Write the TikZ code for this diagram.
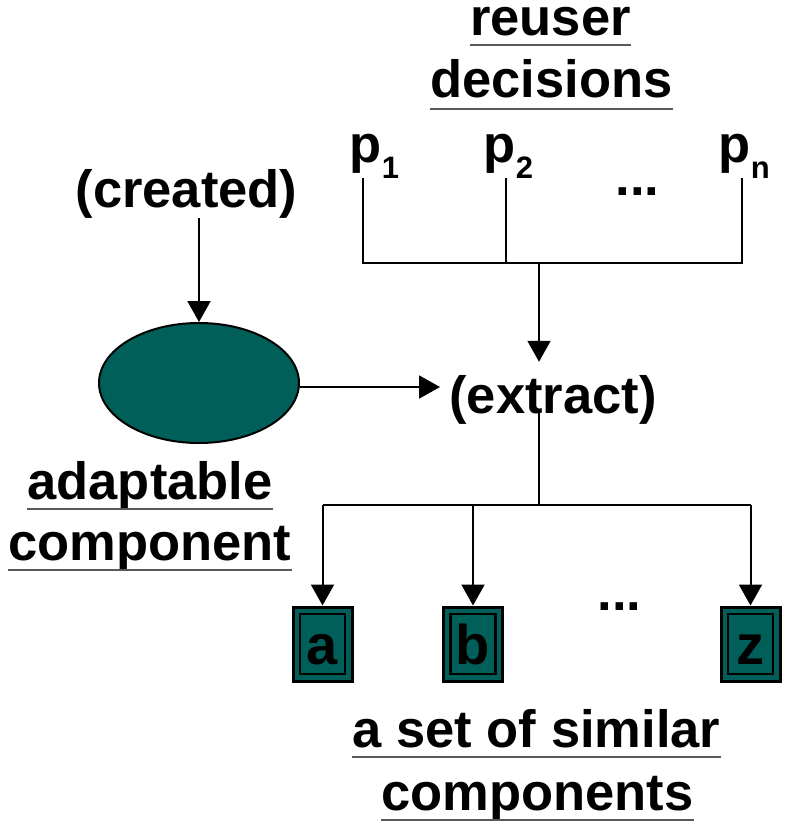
\documentclass[tikz,border=0pt]{standalone}
\usepackage{fontspec}
\setmainfont{Liberation Sans}
\usetikzlibrary{arrows.meta,shapes.geometric}
\definecolor{teal}{HTML}{005F58}
\definecolor{ulgray}{gray}{0.35}
\newcommand{\psub}[1]{p\hspace{0.5pt}\raisebox{-16pt}{\fontsize{31}{31}\selectfont #1}}
\tikzset{
  lbl/.style={font=\fontsize{52.5}{60}\selectfont\bfseries, inner sep=0pt, anchor=base},
  ulined/.style={draw=ulgray, line width=2pt},
  wire/.style={line width=2pt, draw=black},
  arr/.style={wire, -{Triangle[length=21pt,width=23pt]}},
  blob/.style={ellipse, draw=black, line width=2pt, fill=teal,
    minimum width=200pt, minimum height=120pt, inner sep=0pt},
  comp/.style={rectangle, draw=black, line width=3pt, fill=teal,
    minimum width=59pt, minimum height=74pt, inner sep=0pt,
    text height=40pt, text depth=0pt,
    font=\fontsize{56}{60}\selectfont\bfseries,
    path picture={\draw[black, line width=2.5pt]
      ([shift={(7pt,-7pt)}]path picture bounding box.north west) rectangle
      ([shift={(-7pt,7pt)}]path picture bounding box.south east);}},
}
\begin{document}
\begin{tikzpicture}[x=1pt, y=-1pt]
  \useasboundingbox (0,0) rectangle (788,828);

  % title above the parameter bus
  \node[lbl, text height=29pt] (reuser) at (550.5,35.5) {reuser};
  \node[lbl] (decis) at (551.5,97.5) {decisions};
  \draw[ulined] ([yshift=-9pt]reuser.base west) -- ([yshift=-9pt]reuser.base east);
  \draw[ulined] ([yshift=-11pt]decis.base west) -- ([yshift=-11pt]decis.base east);

  % reuser parameters
  \node[lbl, anchor=base west] (p1) at (349,162) {\psub{1}};
  \node[lbl, anchor=base west] (p2) at (483,162) {\psub{2}};
  \node[lbl, anchor=base west] (pn) at (718,162) {\psub{n}};
  \node[lbl] (pdots) at (637.5,195) {...};

  % bus joining the parameters
  \coordinate (j1) at (363,263);
  \coordinate (j2) at (506,263);
  \coordinate (jn) at (742,263);
  \coordinate (busc) at (539,263);
  \draw[wire] (p1.south -| j1) -- (j1) -- (jn) -- (pn.south -| jn);
  \draw[wire] (p2.south -| j2) -- (j2);

  % creation of the adaptable component
  \node[lbl] (created) at (186.5,207) {(created)};
  \node[blob] (ell) at (199,383) {};
  \draw[arr] (created.south -| ell.north) -- (ell.north);

  \node[lbl] (adapt) at (150,499) {adaptable};
  \node[lbl] (compo) at (150,560) {component};
  \draw[ulined] ([yshift=-10pt]adapt.base west) -- ([yshift=-10pt]adapt.base east);
  \draw[ulined] ([yshift=-10pt]compo.base west) -- ([yshift=-10pt]compo.base east);

  % extraction step
  \node[lbl] (ext) at (553,413) {(extract)};
  \coordinate (extin) at (440,387);
  \draw[arr] (ell.east |- extin) -- (extin);
  \draw[arr] (busc) -- ([yshift=13pt]ext.north -| busc);

  % fan-out to the extracted components
  \coordinate (fan) at (539,505);
  \node[comp] (ca) at (322.5,644) {a};
  \node[comp] (cb) at (473,644) {b};
  \node[comp] (cz) at (750.5,644) {z};
  \node[lbl] (cdots) at (619.5,610) {...};
  \draw[wire] ([yshift=12pt]ext.south -| fan) -- (fan);
  \draw[wire] (fan -| ca) -- (fan -| cz);
  \draw[arr] (fan -| ca) -- (ca.north);
  \draw[arr] (fan -| cb) -- (cb.north);
  \draw[arr] (fan -| cz) -- (cz.north);

  \node[lbl] (aset) at (536.5,747) {a set of similar};
  \node[lbl] (comps) at (537.5,810) {components};
  \draw[ulined] ([yshift=-10pt]aset.base west) -- ([yshift=-10pt]aset.base east);
  \draw[ulined] ([yshift=-10pt]comps.base west) -- ([yshift=-10pt]comps.base east);
\end{tikzpicture}
\end{document}
